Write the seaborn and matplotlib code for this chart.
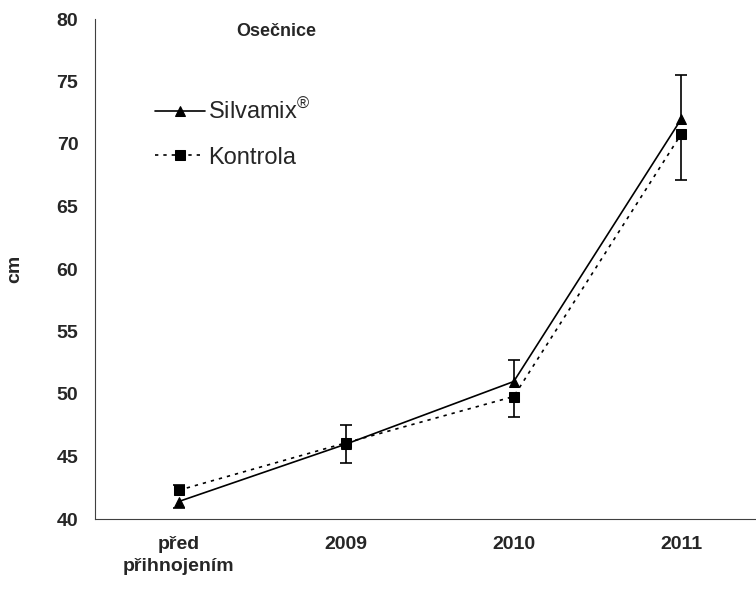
import pandas as pd
import matplotlib
matplotlib.use("Agg")
import matplotlib.pyplot as plt
import seaborn as sns


# hodnoty
categories = ["před\npřihnojením", "2009", "2010", "2011"]
silvamix = [41.4, 46.0, 51.0, 72.0]
silvamix_err = [0.5, 1.5, 1.7, 3.5]
kontrola = [42.3, 46.1, 49.8, 70.8]
kontrola_err = [0.45, 1.4, 1.6, 3.7]
series_names = ["Silvamix$^{®}$", "Kontrola"]


def build_frame():
    rows = []
    for i, cat in enumerate(categories):
        rows.append({"pos": i, "cat": cat, "cm": silvamix[i], "err": silvamix_err[i],
                     "serie": series_names[0]})
        rows.append({"pos": i, "cat": cat, "cm": kontrola[i], "err": kontrola_err[i],
                     "serie": series_names[1]})
    return pd.DataFrame(rows)


def draw_errors(ax, data):
    # vidět je jen vnější část úsečky: nahoru u vyšší řady, dolů u nižší
    for pos, grp in data.groupby("pos"):
        hi = grp.loc[grp["cm"].idxmax()]
        lo = grp.loc[grp["cm"].idxmin()]
        top = hi["cm"] + hi["err"]
        bottom = lo["cm"] - lo["err"]
        ax.vlines(pos, hi["cm"], top, color="black", linewidth=1.2, zorder=2)
        ax.vlines(pos, bottom, lo["cm"], color="black", linewidth=1.2, zorder=2)
        ax.plot([pos, pos], [top, bottom], linestyle="none", marker="_",
                markersize=9, markeredgewidth=1.2, color="black", zorder=2)


def main():
    sns.set_style("white")
    plt.rcParams["font.family"] = ["Liberation Sans", "DejaVu Sans"]
    plt.rcParams["mathtext.fontset"] = "custom"
    plt.rcParams["mathtext.rm"] = "Liberation Sans"
    plt.rcParams["mathtext.it"] = "Liberation Sans"
    plt.rcParams["mathtext.bf"] = "Liberation Sans:bold"

    data = build_frame()

    fig = plt.figure(figsize=(7.56, 5.92), dpi=100)
    ax = fig.add_axes([95 / 756, 73 / 592, 670 / 756, 500 / 592])

    draw_errors(ax, data)

    sns.lineplot(data=data, x="pos", y="cm", hue="serie", style="serie",
                 palette=["black", "black"],
                 markers={series_names[0]: "^", series_names[1]: "s"},
                 dashes={series_names[0]: "", series_names[1]: (2, 3)},
                 markersize=7.5, markeredgecolor="black", linewidth=1.2,
                 ax=ax, zorder=3)

    ax.set_xlim(-0.5, 3.5)
    ax.set_ylim(40, 80)
    ax.set_yticks(range(40, 81, 5))
    ax.set_xticks(range(len(categories)))
    ax.set_xticklabels(categories, fontweight="bold", fontsize=14, linespacing=1.4)
    ax.set_xticks([0.5, 1.5, 2.5, 3.5], minor=True)
    ax.tick_params(axis="x", which="major", length=0, pad=12)
    ax.tick_params(axis="x", which="minor", length=6, width=0.8, color="#404040", direction="out")
    ax.tick_params(axis="y", length=6, width=0.8, color="#404040", direction="out", pad=6)
    for lab in ax.get_yticklabels():
        lab.set_fontweight("bold")
        lab.set_fontsize(14)

    for side in ["top", "right"]:
        ax.spines[side].set_visible(False)
    for side in ["left", "bottom"]:
        ax.spines[side].set_color("#404040")
        ax.spines[side].set_linewidth(0.8)

    ax.set_xlabel("")
    ax.set_ylabel("cm", fontweight="bold", fontsize=14, labelpad=24)
    ax.text(0.27, 0.975, "Osečnice", transform=ax.transAxes, ha="center", va="center",
            fontweight="bold", fontsize=13)

    ax.legend(loc="upper left", bbox_to_anchor=(0.0896, 0.84), frameon=False,
              fontsize=17, handlelength=2.1, handletextpad=0.15, labelspacing=0.95,
              borderpad=0, borderaxespad=0)

    fig.savefig("out.png", dpi=100)


if __name__ == "__main__":
    main()
